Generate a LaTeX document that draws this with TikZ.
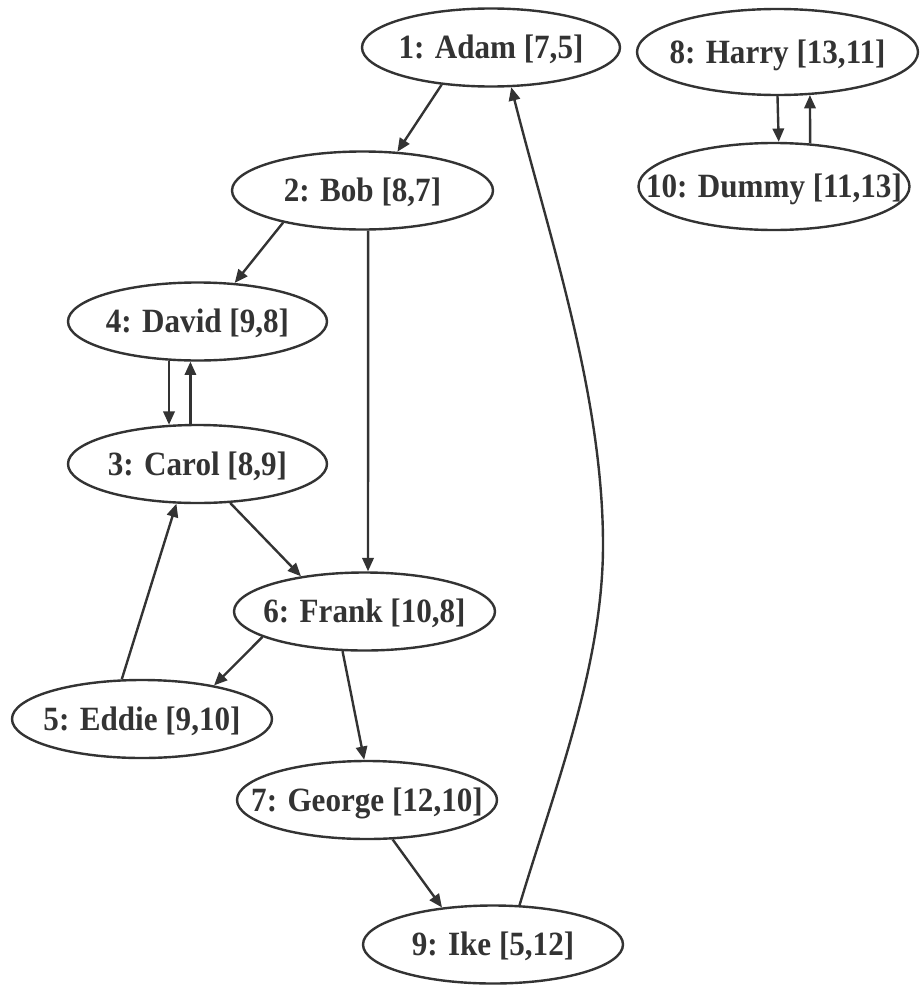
\documentclass[tikz,border=0pt]{standalone}
\usepackage{fontspec}
\newfontfamily\lblfont[FakeStretch=0.915]{Liberation Serif}
\usetikzlibrary{shapes.geometric,arrows.meta}

\definecolor{ink}{HTML}{333333}
% zero-width box so the ellipse size is set only by its minimum width/height
\newcommand\lbltext[1]{\makebox[0pt]{#1}}

\begin{document}
\begin{tikzpicture}[x=0.75pt,y=-0.75pt,
  person/.style={ellipse, draw=ink, line width=1.8pt, inner sep=0pt,
    minimum width=#1*0.75pt, minimum height=78*0.75pt,
    text=ink, font=\lblfont\bfseries\fontsize{25.5}{30}\selectfont,
    text height=17pt, text depth=0pt},
  person/.default=260,
  arr/.style={draw=ink, line width=1.8pt, -{Triangle[length=10pt,width=8.5pt]}}]

\useasboundingbox (0,0) rectangle (920,985);

% people
\node[person=258] (adam)   at (491,47.5)  {\lbltext{1: Adam [7,5]}};
\node[person=261] (bob)    at (362.5,190.5) {\lbltext{2: Bob [8,7]}};
\node[person=259] (david)  at (197.5,321.5) {\lbltext{4: David [9,8]}};
\node[person=259] (carol)  at (197.5,464) {\lbltext{3: Carol [8,9]}};
\node[person=261] (frank)  at (364.5,611.5) {\lbltext{6: Frank [10,8]}};
\node[person=260] (eddie)  at (142,719)   {\lbltext{5: Eddie [9,10]}};
\node[person=260] (george) at (367,800)   {\lbltext{7: George [12,10]}};
\node[person=260] (ike)    at (493,944.5) {\lbltext{9: Ike [5,12]}};
\node[person=281, minimum height=86*0.75pt] (harry) at (777.5,52)  {\lbltext{8: Harry [13,11]}};
\node[person=271, minimum height=87*0.75pt] (dummy) at (774,186.5) {\lbltext{10: Dummy [11,13]}};

% links
\draw[arr] (adam.217) -- (bob.48);
\draw[arr] (bob.202) -- (david.46);
\draw[arr] (bob.278) -- (frank.85);
\draw[arr] (david.234) -- (carol.126);
\draw[arr] (carol.100) -- (david.260);
\draw[arr] (carol.310) -- (frank.151);
\draw[arr] (eddie.117) -- (carol.242);
\draw[arr] (frank.194) -- (eddie.25);
\draw[arr] (frank.241) -- (george.94);
\draw[arr] (george.303) -- (ike.144);
\coordinate (bend) at (603,545);
\draw[arr] (ike.56) .. controls (555,787) and (603,665) .. (bend)
                    .. controls (603,395) and (549.5,238) .. (adam.297);
\draw[arr] (harry.270) -- (dummy.84);
\draw[arr] (dummy.50) -- (harry.307);

\end{tikzpicture}
\end{document}
